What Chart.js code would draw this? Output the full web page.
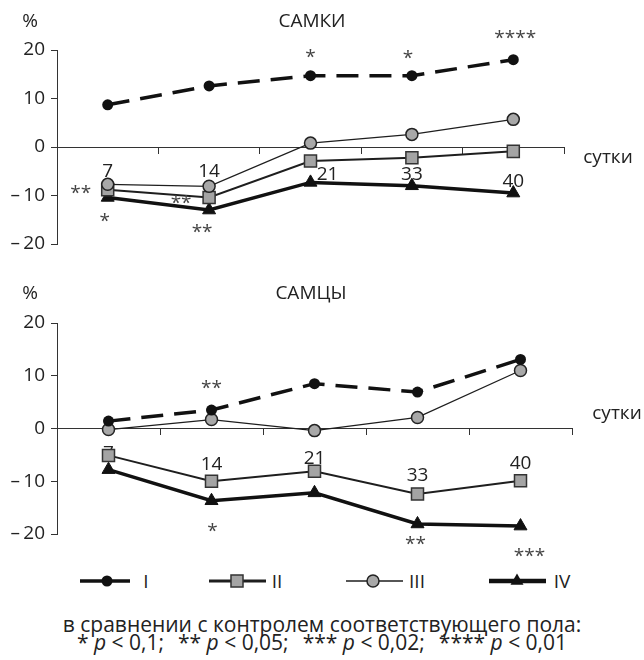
<!DOCTYPE html>
<html lang="ru">
<head>
<meta charset="utf-8">
<title>САМКИ / САМЦЫ</title>
<script src="https://cdn.jsdelivr.net/npm/chart.js@4.4.1/dist/chart.umd.min.js"></script>
<style>
  body { margin: 0; background: #fff; font-family: 'Open Sans', sans-serif; color: #222; }
  #page { position: relative; width: 644px; height: 660px; overflow: hidden; }
  canvas { position: absolute; left: 0; }
  .lbl { position: absolute; font-size: 19px; line-height: 20px; white-space: nowrap; transform: translateX(-50%); }
  #legend { position: absolute; left: 0; top: 566px; }
  #note { position: absolute; left: 0; width: 644px; top: 615px; text-align: center; font-size: 21px; line-height: 18px; }
  #note span { display: inline-block; width: 14px; }
</style>
</head>
<body>
<div id="page">
  <canvas id="females" width="644" height="265" style="top:0"></canvas>
  <canvas id="males" width="644" height="290" style="top:270px"></canvas>

  <div class="lbl" style="left:30px;top:10px">%</div>
  <div class="lbl" style="left:312px;top:10px">САМКИ</div>
  <div class="lbl" style="left:608px;top:146px">сутки</div>
  <div class="lbl" style="left:30px;top:282px">%</div>
  <div class="lbl" style="left:311px;top:282px">САМЦЫ</div>
  <div class="lbl" style="left:617px;top:402px">сутки</div>

  <svg id="legend" width="644" height="30"></svg>

  <div id="note">в сравнении с контролем соответствующего пола:<br>* <i>p</i> &lt; 0,1;<span></span>** <i>p</i> &lt; 0,05;<span></span>*** <i>p</i> &lt; 0,02;<span></span>**** <i>p</i> &lt; 0,01</div>
</div>

<script>
// data (% vs. control)
const days = ['7', '14', '21', '33', '40'];
const seriesNames = ['I', 'II', 'III', 'IV'];
const yTicks = [-20, -10, 0, 10, 20];

const femaleI   = [8.7, 12.6, 14.7, 14.7, 18.0];
const femaleII  = [-8.8, -10.4, -2.9, -2.2, -0.9];
const femaleIII = [-7.7, -8.1, 0.8, 2.6, 5.7];
const femaleIV  = [-10.4, -13.0, -7.3, -8.0, -9.5];

const maleI   = [1.4, 3.5, 8.5, 6.9, 13.1];
const maleII  = [-5.1, -10.0, -8.1, -12.4, -9.9];
const maleIII = [-0.2, 1.7, -0.4, 2.1, 11.0];
const maleIV  = [-7.8, -13.7, -12.2, -18.1, -18.5];

Chart.defaults.font.family = "'Open Sans', sans-serif";
Chart.defaults.color = '#222';

// line styles for I..IV
const styles = [
  { borderColor: '#111', borderWidth: 3.5, borderDash: [22, 11], pointStyle: 'circle', pointRadius: 5.5,
    pointBackgroundColor: '#111', pointBorderColor: '#111', pointBorderWidth: 0, order: 0 },
  { borderColor: '#1e1e1e', borderWidth: 2, pointStyle: 'rect', pointRadius: 8.5,
    pointBackgroundColor: '#a4a4a4', pointBorderColor: '#333', pointBorderWidth: 1.5, order: 2 },
  { borderColor: '#1e1e1e', borderWidth: 1.3, pointStyle: 'circle', pointRadius: 6,
    pointBackgroundColor: '#a8a8a8', pointBorderColor: '#222', pointBorderWidth: 1.5, order: 1 },
  { borderColor: '#111', borderWidth: 3.5, pointStyle: 'triangle', pointRadius: 7.5,
    pointBackgroundColor: '#111', pointBorderColor: '#111', pointBorderWidth: 1, order: 3 }
];

// day numbers and asterisks placed in data units (i = category index, v = y value)
const femaleNotes = {
  days: [{ i: 0, v: -4.8 }, { i: 1, v: -4.8 }, { i: 2, v: -5.4, dx: 17 }, { i: 3, v: -5.5 }, { i: 4, v: -6.9 }],
  stars: [
    { text: '*', i: 2, v: 19.3 }, { text: '*', i: 3, v: 19.1, dx: -4 }, { text: '****', i: 4, v: 23.2, dx: 2 },
    { text: '**', i: 0, v: -8.7, dx: -27 }, { text: '*', i: 0, v: -14.5, dx: -3 },
    { text: '**', i: 1, v: -10.8, dx: -28 }, { text: '**', i: 1, v: -16.8, dx: -7 }
  ]
};
const maleNotes = {
  days: [{ i: 0, v: -4.5 }, { i: 1, v: -6.6 }, { i: 2, v: -5.6 }, { i: 3, v: -8.8 }, { i: 4, v: -6.5 }],
  stars: [
    { text: '**', i: 1, v: 8.4 }, { text: '*', i: 1, v: -18.75, dx: 1 },
    { text: '**', i: 3, v: -21.3, dx: -2 }, { text: '***', i: 4, v: -23.6, dx: 9 }
  ]
};

function drawNotes(chart, list, stars) {
  const { ctx, scales: { x, y } } = chart;
  ctx.save();
  ctx.textAlign = 'center';
  ctx.textBaseline = 'middle';
  ctx.font = "19px 'Open Sans', sans-serif";
  ctx.fillStyle = stars ? '#444' : '#222';
  list.forEach(n => {
    const text = stars ? n.text : days[n.i];
    ctx.fillText(text, x.getPixelForValue(n.i) + (n.dx || 0), y.getPixelForValue(n.v) + (stars ? 4 : 1));
  });
  ctx.restore();
}

const notesPlugin = {
  id: 'notes',
  beforeDatasetsDraw(chart, args, opts) { drawNotes(chart, opts.days, false); },
  afterDatasetsDraw(chart, args, opts) { drawNotes(chart, opts.stars, true); }
};

function makeChart(id, series, notes, pad) {
  return new Chart(document.getElementById(id), {
    type: 'line',
    data: {
      labels: days,
      datasets: series.map((d, k) => Object.assign({ label: seriesNames[k], data: d, tension: 0, clip: false, fill: false }, styles[k]))
    },
    options: {
      responsive: false,
      animation: false,
      events: [],
      layout: { padding: pad },
      plugins: { legend: { display: false }, tooltip: { enabled: false }, notes: notes },
      scales: {
        x: {
          type: 'category',
          position: { y: 0 },
          offset: true,
          grid: { offset: true, drawOnChartArea: false, drawTicks: true, tickLength: 6, color: '#333' },
          border: { display: true, color: '#333', width: 1 },
          ticks: { display: false }
        },
        y: {
          min: -20, max: 20,
          afterBuildTicks: s => { s.ticks = yTicks.map(v => ({ value: v })); },
          afterFit: s => { s.width = 57; },
          grid: { drawOnChartArea: false, tickLength: 6, color: '#333' },
          border: { color: '#333', width: 1 },
          ticks: {
            padding: 6,
            color: '#222',
            font: { size: 19 },
            callback: v => v < 0 ? '\u2013\u2009' + Math.abs(v) : String(v)
          }
        }
      }
    },
    plugins: [notesPlugin]
  });
}

makeChart('females', [femaleI, femaleII, femaleIII, femaleIV], femaleNotes, { top: 50, bottom: 21, left: 0, right: 80 });
makeChart('males', [maleI, maleII, maleIII, maleIV], maleNotes, { top: 53, bottom: 26, left: 0, right: 72 });

// legend (line + marker + roman numeral)
const legendPos = [
  { x1: 80, x2: 130, mx: 107, tx: 146, lw: 3.5 },
  { x1: 209, x2: 266, mx: 237, tx: 277, lw: 3 },
  { x1: 346, x2: 403, mx: 373, tx: 417, lw: 1.6 },
  { x1: 489, x2: 546, mx: 517, tx: 562, lw: 4.5 }
];
const cy = 15;
let svg = '';
legendPos.forEach((p, k) => {
  const s = styles[k];
  svg += `<line x1="${p.x1}" y1="${cy}" x2="${p.x2}" y2="${cy}" stroke="${s.borderColor}" stroke-width="${p.lw}"/>`;
  if (s.pointStyle === 'circle') {
    svg += `<circle cx="${p.mx}" cy="${cy}" r="${s.pointRadius}" fill="${s.pointBackgroundColor}" stroke="${s.pointBorderColor}" stroke-width="${s.pointBorderWidth}"/>`;
  } else if (s.pointStyle === 'rect') {
    const h = s.pointRadius * Math.SQRT1_2;
    svg += `<rect x="${p.mx - h}" y="${cy - h}" width="${2 * h}" height="${2 * h}" fill="${s.pointBackgroundColor}" stroke="${s.pointBorderColor}" stroke-width="${s.pointBorderWidth}"/>`;
  } else {
    const r = s.pointRadius;
    svg += `<polygon points="${p.mx},${cy - r} ${p.mx + r * 0.866},${cy + r / 2} ${p.mx - r * 0.866},${cy + r / 2}" fill="${s.pointBackgroundColor}"/>`;
  }
  svg += `<text x="${p.tx}" y="${cy}" text-anchor="middle" dominant-baseline="central" font-family="Open Sans" font-size="19" fill="#222">${seriesNames[k]}</text>`;
});
document.getElementById('legend').innerHTML = svg;
</script>
</body>
</html>
